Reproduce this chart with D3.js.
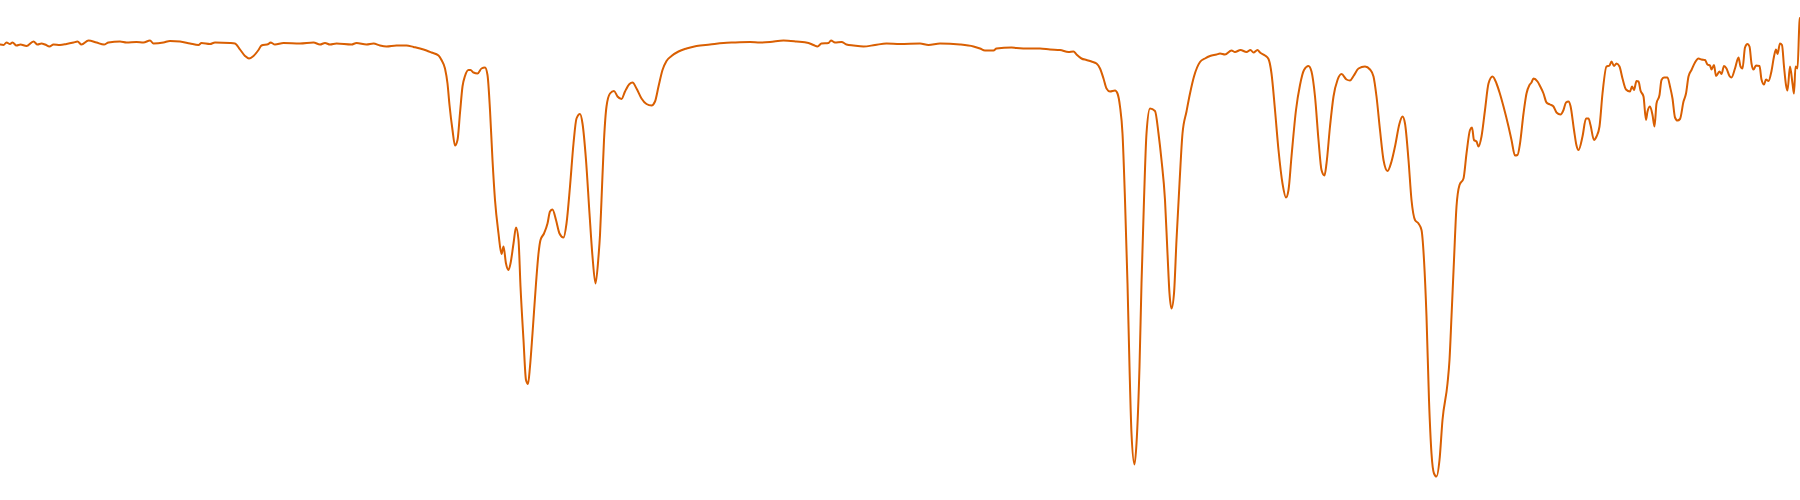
<!DOCTYPE html>
<html>
<head>
<meta charset="utf-8">
<script src="https://cdn.jsdelivr.net/npm/d3@7"></script>
<style>
  html, body { margin: 0; padding: 0; background: #ffffff; }
  svg { display: block; }
</style>
</head>
<body>
<svg id="chart" width="1800" height="500"></svg>
<script>
// Wavenumber (cm^-1), decreasing left to right
const wavenumber = [
  4000,3993,3987,3980,3975,3967,3959,3947,3933,3925,3917,3910,3901,3893,3880,3867,3853,3845,3837,3823,3807,3792,3783,3760,3747,3727,3713,3700,
  3693,3673,3660,3640,3620,3603,3597,3580,3570,3540,3530,3520,3510,3502,3493,3483,3477,3463,3459,3450,3433,3400,
  3373,3360,3350,3340,3327,3297,3287,3267,3253,3240,3227,3207,3187,3173,3160,3147,3137,3123,3117,3110,3105,3101,3095,
  3090,3085,3080,3075,3070,3063,3059,3053,3045,3037,3030,3025,3020,3015,3010,3003,2997,2993,2988,2983,2979,2973,2968,2963,2959,2953,2948,2944,2940,2935,2928,2923,2919,2912,2905,2900,2895,2888,2881,2873,2867,2860,2853,2847,2840,2835,2828,2821,2815,2809,2803,2800,
  2797,2792,2787,2780,2772,2765,2757,2750,2741,2735,2727,2717,2707,2697,2690,2683,2675,2667,2657,2643,2627,2607,2580,2553,2533,2500,
  2480,2460,2433,2407,2383,2373,2365,2357,2343,2338,2330,2317,2307,2293,2273,2250,2227,2200,
  2160,2143,2120,2080,2053,2040,2030,2013,2007,1977,1967,1940,1920,1900,
  1880,1863,1853,1847,1837,1827,1817,1807,1800,1793,1787,1780,1770,1765,1760,1755,1750,1745,1741,1737,1731,1727,1721,1717,1712,1707,1700,1690,1683,1677,1670,1665,1661,1657,1652,1647,1641,1635,1627,1620,1612,1600,
  1590,1580,1567,1560,1550,1537,1530,1519,1507,1499,1493,1485,1480,1470,1463,1457,1450,1443,1435,1428,1423,1417,1408,1400,1392,1383,1377,1370,1363,1357,1351,1347,1340,1333,1325,1317,1307,1300,
  1293,1283,1270,1260,1253,1247,1240,1233,1225,1217,1210,1201,1195,1190,1183,1177,1170,1163,1157,1152,1147,1142,1137,1132,1127,1121,1115,1105,1101,1097,1092,1087,1081,1073,1067,1060,1056,1052,1047,1043,1037,1030,1023,1015,1007,1000,
  993,983,977,970,965,960,953,947,941,937,933,925,920,913,907,900,893,887,879,873,868,863,859,852,847,843,835,828,823,819,812,807,801,795,787,781,777,772,767,761,755,748,740,736,732,727,723,719,713,708,705,700,
  695,691,687,681,677,672,665,660,655,650,645,640,633,628,623,617,610,603,597,590,585,580,577,572,568,561,557,552,547,541,537,530,523,519,515,510,505,501,497,493,488,481,477,472,468,463,457,452,448,445,440,436,432,428,425,420,415,412,409,405,401,400
];

// Transmittance (%)
const transmittance = [
  91.1,91.0,91.5,91.2,91.5,90.9,91.1,90.8,91.7,91.1,91.3,91.1,90.7,91.1,91.0,91.2,91.5,91.7,91.1,91.9,91.5,91.1,91.5,91.7,91.5,91.6,91.5,91.9,
  91.3,91.5,91.8,91.7,91.3,91.0,91.4,91.2,91.5,91.4,91.3,90.1,88.8,88.3,88.8,90.0,90.9,91.2,91.5,91.1,91.4,91.3,
  91.5,91.1,91.4,91.1,91.3,91.1,91.4,91.1,91.3,90.9,90.7,90.9,90.9,90.6,90.3,89.9,89.5,88.9,88.0,86.3,83.3,79.0,74.0,
  70.9,72.0,77.4,82.7,84.8,86.0,86.0,85.5,85.3,86.3,86.5,85.0,78.0,68.0,60.0,53.3,49.2,50.7,47.3,46.0,47.3,51.3,54.5,52.0,42.7,32.0,24.0,23.2,26.7,33.3,43.3,49.3,52.0,53.3,55.3,57.7,58.1,56.0,53.3,52.5,55.3,62.7,71.3,76.3,77.2,75.3,68.0,57.3,48.7,43.3,48.7,53.0,
  60.0,72.0,78.7,81.3,81.8,80.7,80.2,81.7,83.2,83.5,82.3,80.3,79.2,78.9,79.7,82.7,86.0,87.8,88.8,89.7,90.3,90.8,91.1,91.4,91.5,91.6,
  91.5,91.6,91.9,91.7,91.4,91.0,90.7,91.3,91.4,91.9,91.5,91.6,91.1,90.9,90.7,91.0,91.3,91.2,
  91.3,91.0,91.3,91.1,90.7,90.3,89.9,89.9,90.3,90.5,90.4,90.3,90.3,90.1,
  90.0,89.6,89.7,89.1,88.3,88.0,87.7,87.3,86.3,84.3,82.3,81.7,81.9,81.3,78.7,73.3,60.0,43.3,26.7,13.3,7.1,11.3,26.7,43.3,60.0,73.3,78.3,77.8,73.3,68.0,60.0,49.3,41.3,38.3,41.3,52.0,63.3,73.3,77.7,81.3,84.7,87.6,
  88.3,88.8,89.1,89.3,89.1,89.9,89.6,90.0,89.6,90.0,89.5,90.0,89.5,88.9,88.2,85.3,78.0,70.0,63.3,60.5,62.0,68.7,78.0,83.0,86.0,86.8,85.7,80.7,72.0,66.0,64.9,67.3,74.7,80.7,84.0,85.2,84.1,83.9,
  84.8,86.3,86.7,86.1,84.7,80.7,74.0,68.0,65.8,67.7,70.7,75.3,76.7,75.3,68.0,60.0,56.0,55.3,54.0,48.0,36.7,20.0,9.3,5.3,4.7,8.0,16.0,23.3,28.0,36.7,48.0,58.7,63.0,64.3,69.3,74.0,74.5,72.0,71.7,70.7,72.7,78.0,83.3,84.7,83.3,81.2,
  78.7,74.7,72.0,68.9,69.0,71.3,77.3,81.3,83.0,83.5,84.3,83.7,82.8,81.3,79.5,79.1,78.7,77.5,77.1,78.0,79.5,79.7,78.8,74.0,70.9,70.0,72.7,76.3,76.3,75.0,72.0,72.7,74.7,81.3,86.7,86.9,87.7,86.8,87.3,86.7,84.3,82.1,81.7,82.7,82.0,83.8,83.7,81.9,80.7,76.0,77.7,78.7,
  77.0,74.7,79.3,81.0,84.0,84.5,84.5,82.7,80.3,76.5,75.9,76.2,79.7,81.3,84.7,86.0,87.5,88.3,88.1,88.0,87.1,86.9,86.1,87.0,84.8,85.7,85.2,86.8,86.3,84.8,84.5,86.3,88.5,86.7,86.3,90.5,91.2,90.7,87.3,86.1,86.9,86.8,84.1,83.1,84.1,83.8,85.8,88.7,90.1,89.2,91.3,91.0,86.7,83.0,81.9,86.7,83.3,81.3,86.7,86.3,95.7,96.4
];

const width = 1800, height = 500;
const svg = d3.select("#chart");

const data = wavenumber.map((w, i) => ({ w: w, t: transmittance[i] }));

const x = d3.scaleLinear().domain([4000, 400]).range([0, width]);
const y = d3.scaleLinear().domain([0, 100]).range([height, 0]);

const line = d3.line()
  .x(d => x(d.w))
  .y(d => y(d.t))
  .curve(d3.curveMonotoneX);

svg.append("path")
  .datum(data)
  .attr("fill", "none")
  .attr("stroke", "#d95f02")
  .attr("stroke-width", 2)
  .attr("stroke-linejoin", "round")
  .attr("stroke-linecap", "round")
  .attr("d", line);
</script>
</body>
</html>
